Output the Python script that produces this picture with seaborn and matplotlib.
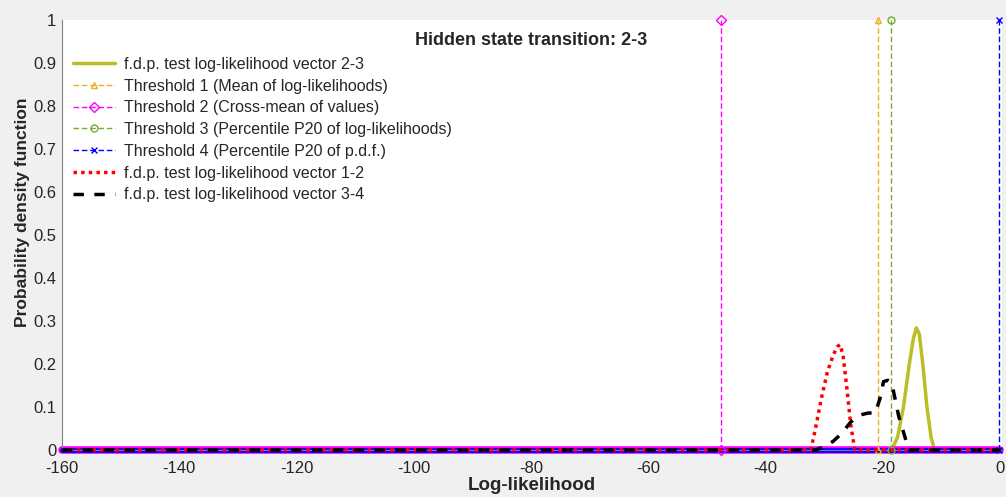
import matplotlib
matplotlib.use("Agg")
import matplotlib.pyplot as plt
import seaborn as sns

# -----------------------------
# Data
# -----------------------------
# f.d.p. of the test log-likelihood vector 2-3
x_23 = [-160, -18.5, -17.5, -16.5, -15.5, -14.8, -14.3, -13.8, -13.2, -12.5, -11.8, -11.2, 0]
y_23 = [0, 0, 0.03, 0.10, 0.20, 0.26, 0.284, 0.27, 0.20, 0.10, 0.03, 0, 0]

# f.d.p. of the test log-likelihood vector 1-2
x_12 = [-160, -32.3, -31.5, -30.5, -29.5, -28.5, -27.8, -27.3, -26.8, -26.2, -25.5, -24.8, 0]
y_12 = [0, 0, 0.05, 0.12, 0.18, 0.22, 0.24, 0.245, 0.22, 0.15, 0.06, 0, 0]

# f.d.p. of the test log-likelihood vector 3-4
x_34 = [-160, -31.5, -30, -28.5, -27, -25.5, -24, -22.5, -21.3, -20.5, -19.9, -19.2, -18.5, -17.3, -16.2, -15.6, 0]
y_34 = [0, 0, 0.008, 0.02, 0.039, 0.065, 0.081, 0.086, 0.086, 0.12, 0.159, 0.162, 0.156, 0.078, 0.028, 0, 0]

# thresholds (vertical lines from 0 to 1)
thr_labels = ["Threshold 1 (Mean of log-likelihoods)",
              "Threshold 2 (Cross-mean of values)",
              "Threshold 3 (Percentile P20 of log-likelihoods)",
              "Threshold 4 (Percentile P20 of p.d.f.)"]
thr_values = [-20.9, -47.7, -18.6, -0.2]
thr_colors = ["#edb120", "#ff00ff", "#77ac30", "#0000ff"]
thr_markers = ["^", "D", "o", "x"]
thr_span = [0, 1]

baseline_x = [-160, 0]
baseline_y = [0, 0]

x_ticks = list(range(-160, 1, 20))
y_ticks = [0, 0.1, 0.2, 0.3, 0.4, 0.5, 0.6, 0.7, 0.8, 0.9, 1]
y_ticklabels = ["0", "0.1", "0.2", "0.3", "0.4", "0.5", "0.6", "0.7", "0.8", "0.9", "1"]

# -----------------------------
# Plot
# -----------------------------
sns.set_style("white")
plt.rcParams['font.family'] = ['Liberation Sans', 'DejaVu Sans']

fig = plt.figure(figsize=(10.06, 4.97), dpi=100, facecolor="#f0f0f0")
ax = fig.add_axes([0.0616, 0.0946, 0.9344, 0.8652])
ax.set_facecolor("white")

sns.lineplot(x=x_23, y=y_23, ax=ax, estimator=None, sort=False, color="#bdbd26",
             linewidth=2.5, label="f.d.p. test log-likelihood vector 2-3", zorder=1, clip_on=False)

# thick baseline along y = 0 (all series sit on zero there)
ax.plot(baseline_x, baseline_y, color="#ff00ff", linewidth=5.5, zorder=2, clip_on=False)
ax.plot(baseline_x, baseline_y, color="#0000ff", linewidth=3.5, zorder=2, clip_on=False)

for lab, val, col, mk in zip(thr_labels, thr_values, thr_colors, thr_markers):
    sns.lineplot(x=[val, val], y=thr_span, ax=ax, estimator=None, sort=False, color=col,
                 linestyle=(0, (4, 2)), linewidth=1.0, marker=mk, markersize=5,
                 markerfacecolor="none", markeredgecolor=col, markeredgewidth=1.0,
                 label=lab, zorder=3, clip_on=False)

sns.lineplot(x=x_12, y=y_12, ax=ax, estimator=None, sort=False, color="#ff0000",
             linestyle=(0, (1, 1.2)), linewidth=2.5, label="f.d.p. test log-likelihood vector 1-2",
             zorder=4, clip_on=False)
sns.lineplot(x=x_34, y=y_34, ax=ax, estimator=None, sort=False, color="black",
             linestyle=(0, (3, 3)), linewidth=2.5, label="f.d.p. test log-likelihood vector 3-4",
             zorder=4, clip_on=False)

ax.set_xlim(-160, 0.3)
ax.set_ylim(0, 1)
ax.set_xticks(x_ticks)
ax.set_xticklabels([str(t) for t in x_ticks])
ax.set_yticks(y_ticks)
ax.set_yticklabels(y_ticklabels)
ax.tick_params(direction="in", length=5, color="#808080", labelsize=12, labelcolor="#262626")
ax.tick_params(axis="x", pad=8)
ax.tick_params(axis="y", pad=4)

for side in ["top", "right"]:
    ax.spines[side].set_visible(False)
for side in ["left", "bottom"]:
    ax.spines[side].set_color("#808080")
    ax.spines[side].set_linewidth(0.8)

ax.set_xlabel("Log-likelihood", fontsize=13.5, fontweight="bold", color="#262626")
ax.xaxis.set_label_coords(0.5, -0.063)
ax.set_ylabel("Probability density function", fontsize=12.5, fontweight="bold", color="#262626")
ax.yaxis.set_label_coords(-0.034, 0.553)
ax.text(0.499, 0.953, "Hidden state transition: 2-3", transform=ax.transAxes,
        ha="center", va="center", fontsize=13, fontweight="bold")

leg = ax.legend(loc="upper left", bbox_to_anchor=(0.0, 0.94), frameon=False, fontsize=11.5,
                handlelength=2.6, handletextpad=0.6, labelspacing=0.42, borderaxespad=0.3)

fig.savefig("out.png", dpi=100, facecolor=fig.get_facecolor())
